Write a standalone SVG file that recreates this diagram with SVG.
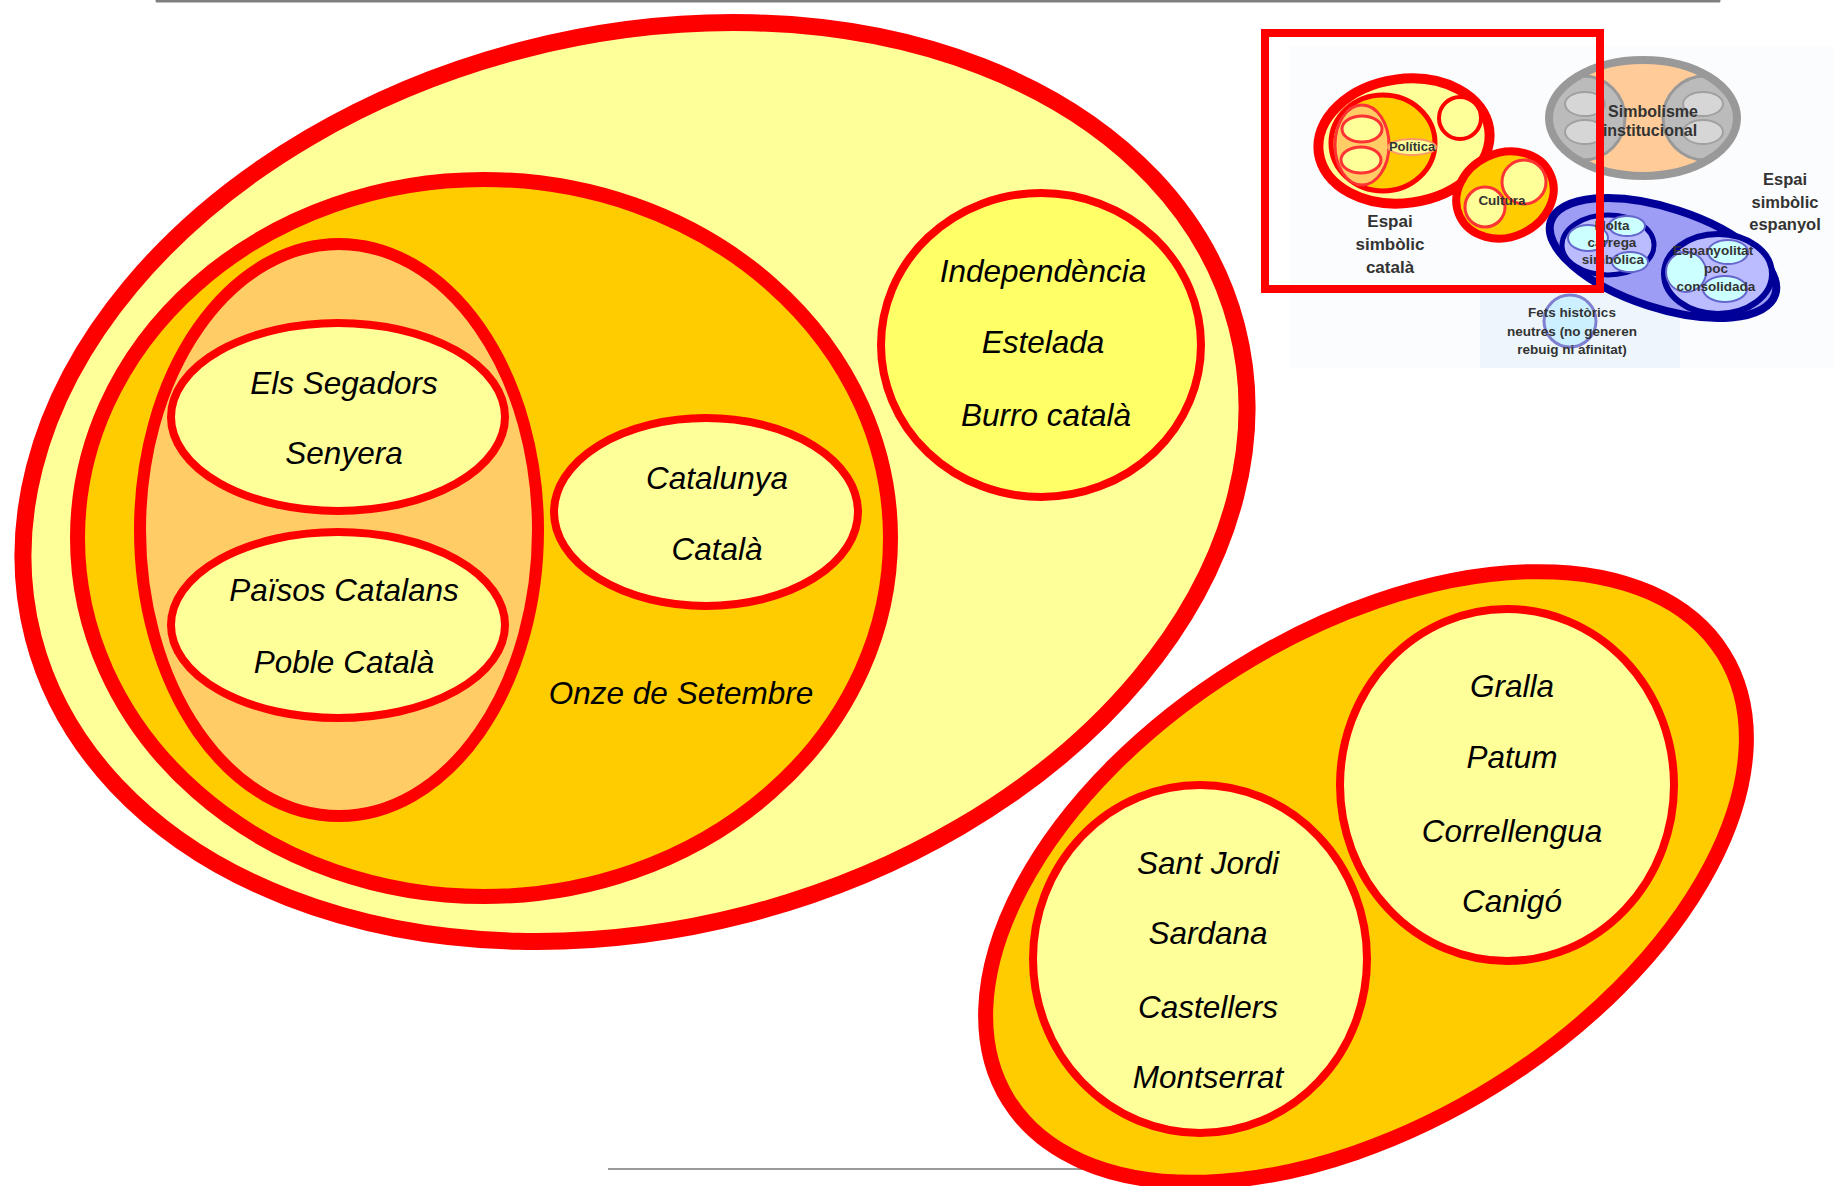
<svg xmlns="http://www.w3.org/2000/svg" width="1834" height="1186" viewBox="0 0 1834 1186">
<style>
.r{stroke:#FF0000;}
.t{font-family:"Liberation Sans",Arial,sans-serif;font-style:italic;font-size:31.5px;text-anchor:middle;fill:#000;}
.s{font-family:"Liberation Sans",Arial,sans-serif;font-weight:bold;text-anchor:middle;fill:#333;}
</style>
<rect width="1834" height="1186" fill="#FFFFFF"/>
<line x1="157" y1="1" x2="1719" y2="1" stroke="#808080" stroke-width="3" stroke-linecap="round"/>
<line x1="608" y1="1169" x2="1130" y2="1169" stroke="#9a9a9a" stroke-width="2"/>

<g id="espai-politic">
<ellipse cx="635" cy="482" rx="621.5" ry="446.5" transform="rotate(-14.5 635 482)" fill="#FFFF99" class="r" stroke-width="17"/>
</g>
<g id="onze-de-setembre">
<ellipse cx="484" cy="538" rx="406.5" ry="358.5" fill="#FFCC00" class="r" stroke-width="15"/>
<text class="t" x="681" y="704">Onze de Setembre</text>
</g>
<g id="simbols-nacionals">
<ellipse cx="339" cy="530" rx="199" ry="286" fill="#FFCC66" class="r" stroke-width="12"/>
</g>
<g id="segadors-senyera">
<ellipse cx="338" cy="417" rx="167" ry="94" fill="#FFFF99" class="r" stroke-width="8"/>
<text class="t" x="344" y="394">Els Segadors</text>
<text class="t" x="344" y="464">Senyera</text>
</g>
<g id="paisos-catalans">
<ellipse cx="338" cy="625" rx="167" ry="93" fill="#FFFF99" class="r" stroke-width="8"/>
<text class="t" x="344" y="601">Països Catalans</text>
<text class="t" x="344" y="673">Poble Català</text>
</g>
<g id="catalunya-catala">
<ellipse cx="706" cy="512" rx="152" ry="94" fill="#FFFF99" class="r" stroke-width="8"/>
<text class="t" x="717" y="489">Catalunya</text>
<text class="t" x="717" y="560">Català</text>
</g>
<g id="independencia">
<ellipse cx="1041" cy="345" rx="160" ry="152" fill="#FFFF66" class="r" stroke-width="8"/>
<text class="t" x="1043" y="282">Independència</text>
<text class="t" x="1043" y="353">Estelada</text>
<text class="t" x="1046" y="426">Burro català</text>
</g>

<g id="espai-cultural">
<ellipse cx="1366" cy="877" rx="421.5" ry="245.5" transform="rotate(-32 1366 877)" fill="#FFCC00" class="r" stroke-width="15"/>
</g>
<g id="tradicions">
<ellipse cx="1200" cy="959" rx="167" ry="174" fill="#FFFF99" class="r" stroke-width="8"/>
<text class="t" x="1208" y="874">Sant Jordi</text>
<text class="t" x="1208" y="944">Sardana</text>
<text class="t" x="1208" y="1018">Castellers</text>
<text class="t" x="1208" y="1088">Montserrat</text>
</g>
<g id="festes">
<ellipse cx="1507" cy="785" rx="167" ry="176" fill="#FFFF99" class="r" stroke-width="8"/>
<text class="t" x="1512" y="697">Gralla</text>
<text class="t" x="1512" y="768">Patum</text>
<text class="t" x="1512" y="842">Correllengua</text>
<text class="t" x="1512" y="912">Canigó</text>
</g>

<g id="miniatura">
<defs>
<clipPath id="grayclip"><ellipse cx="1643" cy="118" rx="94" ry="58"/></clipPath>
</defs>
<rect x="1290" y="46" width="544" height="322" fill="#FBFCFD"/>
<rect x="1480" y="285" width="200" height="83" fill="#EEF6FC"/>
<g id="mini-politica">
<ellipse cx="1404" cy="141" rx="86" ry="62" transform="rotate(-8 1404 141)" fill="#FFFF99" stroke="#FF0000" stroke-width="10"/>
<ellipse cx="1383" cy="143" rx="52" ry="48" fill="#FFCC00" stroke="#FF0000" stroke-width="5"/>
<ellipse cx="1362" cy="145" rx="27" ry="40" fill="#FFCC66" stroke="#FF3333" stroke-width="3"/>
<ellipse cx="1362" cy="129" rx="20" ry="13" fill="#FFFF99" stroke="#FF3333" stroke-width="3"/>
<ellipse cx="1361" cy="160" rx="20" ry="13" fill="#FFFF99" stroke="#FF3333" stroke-width="3"/>
<circle cx="1460" cy="118" r="21" fill="#FFFF99" stroke="#FF0000" stroke-width="4"/>
<ellipse cx="1412" cy="147" rx="24" ry="8" fill="#FFFF99" stroke="#FF9966" stroke-width="2"/>
<text class="s" x="1412" y="151" font-size="13">Política</text>
</g>
<g id="mini-cultura">
<ellipse cx="1505" cy="195" rx="50" ry="42" transform="rotate(-25 1505 195)" fill="#FFCC00" stroke="#FF0000" stroke-width="8"/>
<circle cx="1524" cy="182" r="22" fill="#FFFF99" stroke="#FF3333" stroke-width="3"/>
<circle cx="1485" cy="207" r="20" fill="#FFFF99" stroke="#FF3333" stroke-width="3"/>
<text class="s" x="1502" y="205" font-size="13.5">Cultura</text>
</g>
<text class="s" x="1390" y="227" font-size="17">Espai</text>
<text class="s" x="1390" y="250" font-size="17">simbòlic</text>
<text class="s" x="1390" y="273" font-size="17">català</text>
<g id="mini-institucional">
<ellipse cx="1643" cy="118" rx="94" ry="58" fill="#FFCC99"/>
<g clip-path="url(#grayclip)">
<circle cx="1583" cy="118" r="42" fill="#BBBBBB" stroke="#999999" stroke-width="3"/>
<circle cx="1705" cy="118" r="42" fill="#BBBBBB" stroke="#999999" stroke-width="3"/>
<ellipse cx="1585" cy="104" rx="20" ry="12" fill="#D6D6D6" stroke="#A0A0A0" stroke-width="2"/>
<ellipse cx="1585" cy="132" rx="20" ry="12" fill="#D6D6D6" stroke="#A0A0A0" stroke-width="2"/>
<ellipse cx="1703" cy="104" rx="20" ry="12" fill="#D6D6D6" stroke="#A0A0A0" stroke-width="2"/>
<ellipse cx="1703" cy="132" rx="20" ry="12" fill="#D6D6D6" stroke="#A0A0A0" stroke-width="2"/>
</g>
<ellipse cx="1643" cy="118" rx="94" ry="58" fill="none" stroke="#999999" stroke-width="8"/>
<text class="s" x="1653" y="117" font-size="16">Simbolisme</text>
<text class="s" x="1650" y="136" font-size="16">institucional</text>
</g>
<g id="mini-espanyol">
<ellipse cx="1663" cy="258" rx="118" ry="50" transform="rotate(18 1663 258)" fill="#9D9DF5" stroke="#000099" stroke-width="8"/>
<ellipse cx="1608" cy="245" rx="46" ry="30" fill="#BBBBFF" stroke="#000099" stroke-width="5"/>
<ellipse cx="1588" cy="238" rx="20" ry="13" fill="#CCFFFF" stroke="#6666CC" stroke-width="2"/>
<ellipse cx="1627" cy="226" rx="18" ry="10" fill="#CCFFFF" stroke="#6666CC" stroke-width="2"/>
<ellipse cx="1630" cy="262" rx="18" ry="10" fill="#CCFFFF" stroke="#6666CC" stroke-width="2"/>
<text class="s" x="1612" y="230" font-size="13.5">Molta</text>
<text class="s" x="1612" y="247" font-size="13.5">càrrega</text>
<text class="s" x="1613" y="264" font-size="13.5">simbòlica</text>
<ellipse cx="1718" cy="274" rx="54" ry="40" fill="#BBBBFF" stroke="#000099" stroke-width="6"/>
<circle cx="1686" cy="272" r="20" fill="#CCFFFF" stroke="#6666CC" stroke-width="2"/>
<ellipse cx="1725" cy="289" rx="22" ry="13" fill="#CCFFFF" stroke="#6666CC" stroke-width="2"/>
<ellipse cx="1728" cy="252" rx="20" ry="12" fill="#CCFFFF" stroke="#6666CC" stroke-width="2"/>
<text class="s" x="1713" y="255" font-size="13.5">Espanyolitat</text>
<text class="s" x="1716" y="273" font-size="13.5">poc</text>
<text class="s" x="1716" y="291" font-size="13.5">consolidada</text>
</g>
<text class="s" x="1785" y="185" font-size="16.5">Espai</text>
<text class="s" x="1785" y="208" font-size="16.5">simbòlic</text>
<text class="s" x="1785" y="230" font-size="16.5">espanyol</text>
<g id="mini-fets">
<circle cx="1570" cy="321" r="26" fill="#CCF0FF" stroke="#8080D0" stroke-width="3"/>
<text class="s" x="1572" y="317" font-size="13.5">Fets històrics</text>
<text class="s" x="1572" y="336" font-size="13.5">neutres (no generen</text>
<text class="s" x="1572" y="354" font-size="13.5">rebuig ni afinitat)</text>
</g>
<rect id="marc" x="1265" y="33" width="335" height="256" fill="none" stroke="#FF0000" stroke-width="8"/>
</g>
</svg>
